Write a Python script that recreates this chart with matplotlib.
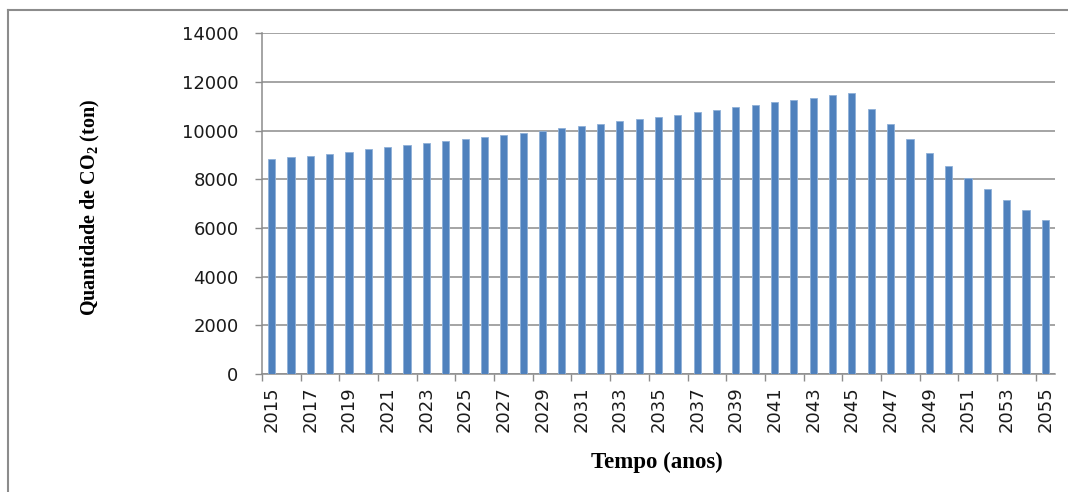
import numpy as np
import matplotlib
matplotlib.use("Agg")
import matplotlib.pyplot as plt
from matplotlib.lines import Line2D

plt.rcParams['mathtext.fontset'] = 'custom'
plt.rcParams['mathtext.rm'] = 'Liberation Serif:bold'
plt.rcParams['mathtext.bf'] = 'Liberation Serif:bold'

# Emissões anuais de CO2 (ton)
anos = list(range(2015, 2056))
co2 = [8820, 8900, 8970, 9055, 9125, 9245, 9330, 9400, 9480, 9560,
       9645, 9755, 9835, 9905, 10000, 10110, 10190, 10260, 10385, 10465,
       10575, 10660, 10765, 10850, 10975, 11055, 11165, 11245, 11355, 11465,
       11550, 10875, 10260, 9645, 9080, 8550, 8070, 7590, 7135, 6740,
       6340]
yticks = [0, 2000, 4000, 6000, 8000, 10000, 12000, 14000]

W, H = 1068, 492
fig = plt.figure(figsize=(W / 100, H / 100), dpi=100, facecolor='white')
ax = fig.add_axes([262 / W, 1 - 374 / H, (1055 - 262) / W, (374 - 33.3) / H])

x = np.arange(len(anos))
ax.bar(x, co2, width=0.37, color='#4f81bd', edgecolor='#8fb0d8', linewidth=0.6, zorder=3)

ax.set_xlim(-0.5, len(anos) - 0.5)
ax.set_ylim(0, 14000)
ax.set_yticks(yticks)
ax.set_yticklabels([str(v) for v in yticks])
ax.yaxis.grid(True, color='#8c8c8c', linewidth=1.1, zorder=0)
ax.set_axisbelow(True)

# rótulos a cada dois anos, marcas entre categorias
ax.set_xticks(x[::2])
ax.set_xticklabels([str(a) for a in anos[::2]], rotation=90)
ax.set_xticks(np.arange(-0.5, len(anos) - 0.5, 2), minor=True)
ax.tick_params(axis='x', which='major', length=0, pad=9, labelsize=13, labelcolor='#1a1a1a')
ax.tick_params(axis='x', which='minor', length=5, width=1, color='#8c8c8c')
ax.tick_params(axis='y', length=5, width=1, color='#8c8c8c', pad=12, labelsize=13,
               labelcolor='#1a1a1a')

for s in ['top', 'right']:
    ax.spines[s].set_visible(False)
for s in ['left', 'bottom']:
    ax.spines[s].set_color('#8c8c8c')
    ax.spines[s].set_linewidth(1.1)

fig.text(90 / W, 1 - 207 / H, r'Quantidade de CO$_{\mathrm{2}}$ (ton)', rotation=90,
         ha='center', va='center', family='Liberation Serif', fontweight='bold', fontsize=14.5)
fig.text(657 / W, 1 - 462 / H, 'Tempo (anos)', ha='center', va='center',
         family='Liberation Serif', fontweight='bold', fontsize=16.5)

# moldura da área do gráfico
fig.add_artist(Line2D([8 / W, 8 / W], [0, 1 - 10 / H], transform=fig.transFigure,
                      color='#8c8c8c', linewidth=1.5))
fig.add_artist(Line2D([8 / W, 1], [1 - 10 / H, 1 - 10 / H], transform=fig.transFigure,
                      color='#8c8c8c', linewidth=1.5))

fig.savefig('out.png', dpi=100)
